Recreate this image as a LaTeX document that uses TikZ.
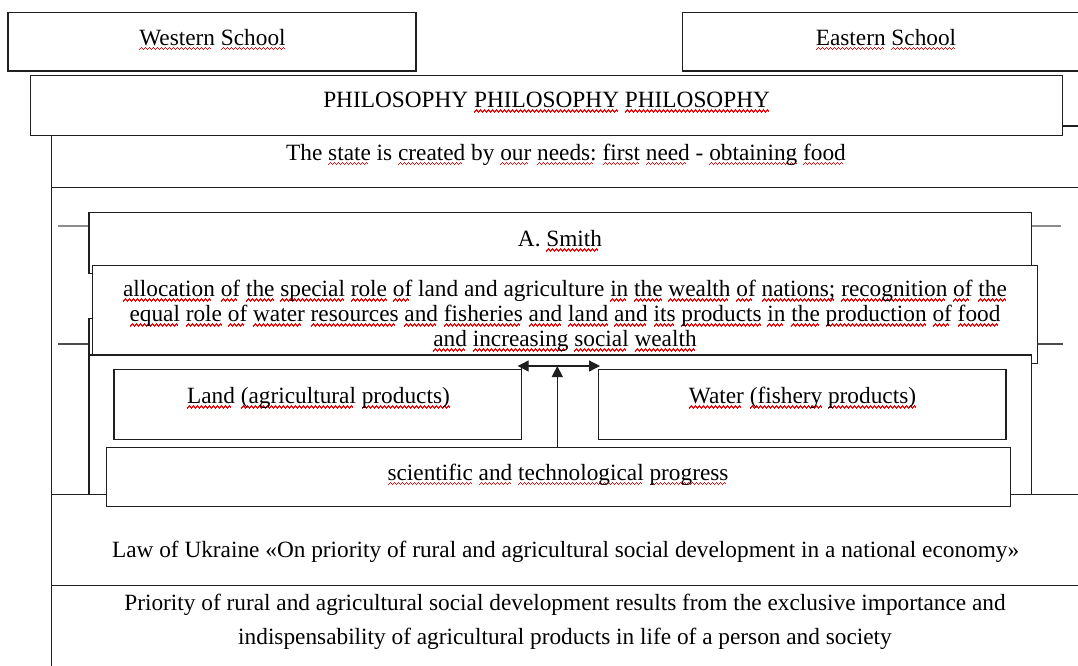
\documentclass[tikz,border=0pt]{standalone}
\usepackage{fontspec}
\setmainfont{Liberation Serif}
\usetikzlibrary{arrows.meta}

% red spell-check squiggle drawn under a word
\definecolor{squig}{RGB}{255,0,0}
\newcommand\wavemark{\rule[-5.2pt]{1pt}{1.6pt}\rule[-4.2pt]{1pt}{1.6pt}\rule[-3.2pt]{1pt}{1.6pt}\rule[-4.2pt]{1pt}{1.6pt}}
\newsavebox\sqbox
\newcommand\sq[1]{\sbox\sqbox{#1}\rlap{\color{squig}\hbox to \wd\sqbox{\leaders\hbox{\wavemark}\hfill}}\usebox\sqbox}
\newcommand\lblfont{\fontsize{23.3}{25}\selectfont}

\tikzset{
  frame/.style={draw=black!88, line width=1.25pt},
  box/.style={frame, fill=white, rectangle, inner sep=0pt, outer sep=0pt},
  lbl/.style={anchor=base, inner sep=0pt, font=\lblfont, text=black},
  greytick/.style={draw=black!45, line width=2.2pt},
  darktick/.style={draw=black!70, line width=1.25pt},
  arr/.style={draw=black!88, line width=1.25pt, -{Triangle[length=11pt,width=11pt]}},
}

\begin{document}
\begin{tikzpicture}[x=1pt,y=-1pt]
\useasboundingbox (0,0) rectangle (1078,665);
\fill[white] (0,0) rectangle (1078,665);

% school headers
\node[box, minimum width=406.3pt, minimum height=58.3pt] (east) at (885.85,41.85) {};
\node[box, minimum width=408pt, minimum height=58.3pt] (west) at (212,41.85) {};
\node[lbl] (tWest) at (212.5,45) {\sq{Western} \sq{School}};
\node[lbl] (tEast) at (886,45) {\sq{Eastern} \sq{School}};

% philosophy banner
\node[box, minimum width=1032pt, minimum height=60.4pt] (phil) at (546.7,105.5) {};
\node[lbl] (tPhil) at (546.6,107.3) {PHILOSOPHY \sq{PHILOSOPHY} \sq{PHILOSOPHY}};
\draw[frame] (phil.east |- 0,126) -- (1090,126);

% outer frame lines
\draw[frame] (51.3,135.7) -- (51.3,670);
\draw[frame] (51.3,187.3) -- (1090,187.3);
\draw[frame] (51.3,494.3) -- (1090,494.3);
\draw[frame] (51.3,585.3) -- (1090,585.3);
\node[lbl] (tState) at (566,160) {The \sq{state} is \sq{created} by \sq{our} \sq{needs:} \sq{first} \sq{need} - \sq{obtaining} \sq{food}};

% side ticks
\draw[greytick] (58,225.7) -- (89,225.7);
\draw[greytick] (1031.3,225.7) -- (1060.7,225.7);
\draw[darktick] (58,344) -- (89,344);
\draw[darktick] (1037.3,344) -- (1062.7,344);

% A. Smith block
\node[box, minimum width=942.3pt, minimum height=61pt] (smith) at (560.15,242.8) {};
\node[lbl] (tSmith) at (560,246.7) {A. \sq{Smith}};
\node[box, minimum width=942.3pt, minimum height=41.7pt] (under) at (560.15,339.15) {};
\node[box, minimum width=944.6pt, minimum height=97.6pt] (alloc) at (565,314.5) {};
\node[lbl] (alloc1) at (565,296.7) {\sq{allocation} \sq{of} \sq{the} \sq{special} \sq{role} \sq{of} land and agriculture \sq{in} \sq{the} \sq{wealth} \sq{of} \sq{nations;} \sq{recognition} \sq{of} \sq{the}};
\node[lbl] (alloc2) at (565,321.7) {\sq{equal} \sq{role} \sq{of} \sq{water} \sq{resources} \sq{and} \sq{fisheries} \sq{and} \sq{land} \sq{and} \sq{its} \sq{products} \sq{in} \sq{the} \sq{production} \sq{of} \sq{food}};
\node[lbl] (alloc3) at (565,346.7) {\sq{and} \sq{increasing} \sq{social} \sq{wealth}};

% resources block
\node[box, minimum width=942.3pt, minimum height=139.3pt] (inner) at (560.15,424.65) {};
\node[box, minimum width=407.7pt, minimum height=70pt] (land) at (317.85,404.3) {};
\node[box, minimum width=407.7pt, minimum height=70pt] (water) at (802.15,404.3) {};
\node[lbl] (tLand) at (318.5,403.3) {\sq{Land} \sq{(agricultural} \sq{products)}};
\node[lbl] (tWater) at (802.5,403.3) {\sq{Water} \sq{(fishery} \sq{products)}};
\node[box, minimum width=904.4pt, minimum height=59pt] (sci) at (558.5,477.2) {};
\node[lbl] (tSci) at (558,480) {\sq{scientific} \sq{and} \sq{technological} \sq{progress}};

% arrows from progress to both resources
\coordinate (hub) at (557.3,366);
\coordinate (hubL) at (517.7,366);
\coordinate (hubR) at (600,366);
\draw[frame] (land.north east) -- ++(0,-3.3);
\draw[arr] (sci.north -| hub) -- (hub);
\draw[arr] (hub) -- (hubL);
\draw[arr] (hub) -- (hubR);

% law and conclusion
\node[lbl] (tLaw) at (565.6,557.5) {Law of Ukraine «On priority of rural and agricultural social development in a national economy»};
\node[lbl] (tPri1) at (565,610) {Priority of rural and agricultural social development results from the exclusive importance and};
\node[lbl] (tPri2) at (565,644) {indispensability of agricultural products in life of a person and society};
\end{tikzpicture}
\end{document}
